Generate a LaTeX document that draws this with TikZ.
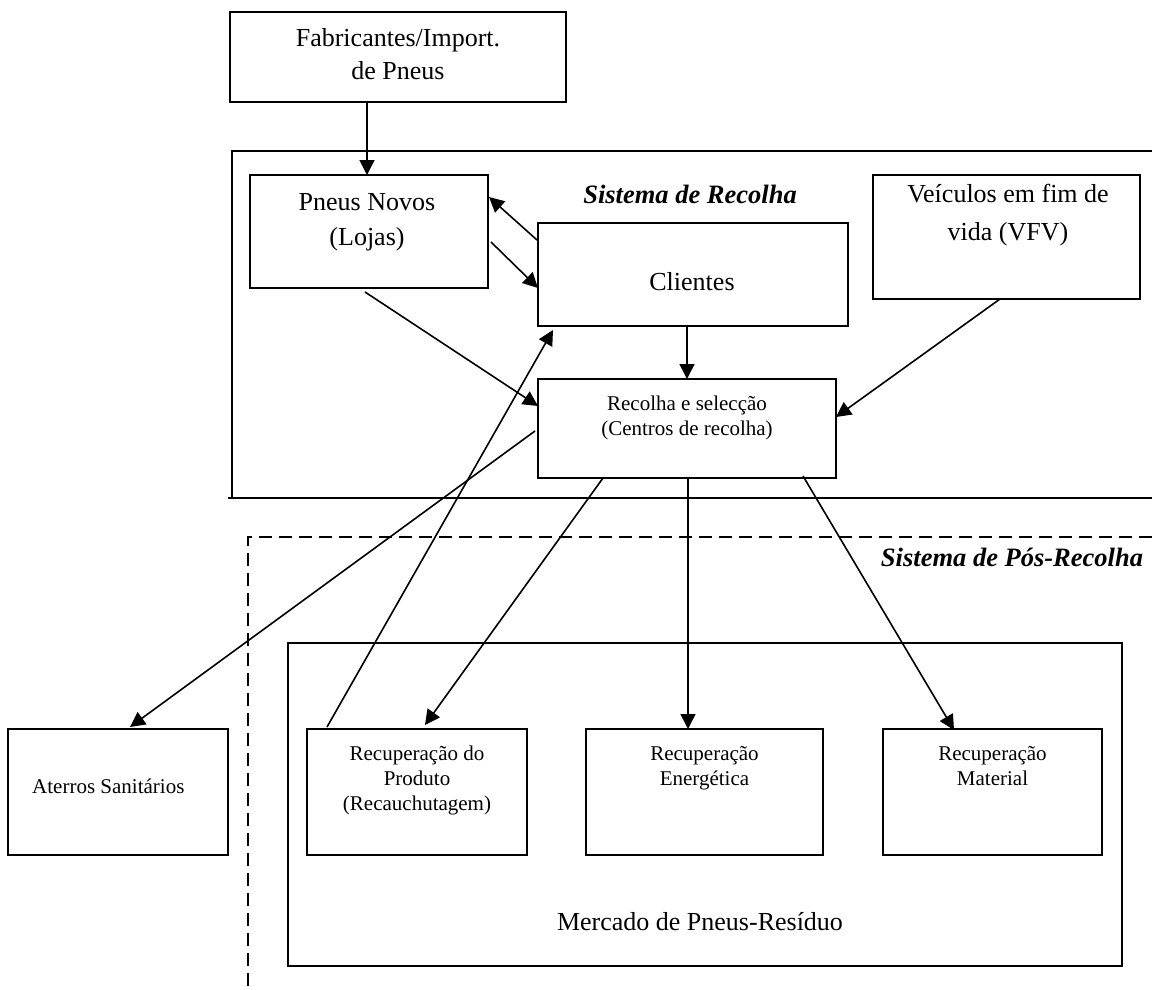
\documentclass[tikz,border=0pt]{standalone}
\usepackage{fontspec}
\setmainfont{Liberation Serif}
\usetikzlibrary{arrows.meta,calc}
\begin{document}
\begin{tikzpicture}[x=1pt,y=-1pt,
  box/.style={draw, line width=1.8pt, inner sep=0pt, outer sep=0pt},
  big/.style={font=\fontsize{26}{31}\selectfont, anchor=base, inner sep=0pt},
  small/.style={font=\fontsize{21}{25}\selectfont, anchor=base, inner sep=0pt},
  systitle/.style={font=\fontsize{26.5}{31}\selectfont\bfseries\itshape, anchor=base, inner sep=0pt},
  flow/.style={line width=1.6pt, -{Triangle[length=15pt,width=15pt]}},
  link/.style={line width=1.6pt},
  frame/.style={line width=1.5pt}]
\useasboundingbox (0,0) rectangle (1152,990);

% system boundaries
\draw[frame] (1152,151) -- (232,151) -- (232,498);
\draw[frame] (228,498) -- (1152,498);
\draw[frame, dash pattern=on 13pt off 7pt] (1152,537) -- (248,537) -- (248,990);
\node[systitle] (tRecolha) at (690,203) {Sistema de Recolha};
\node[systitle] (tPos) at (1012,566) {Sistema de Pós-Recolha};

% boxes
\node[box, minimum width=336pt, minimum height=90pt]  (fab)      at (398,57)    {};
\node[box, minimum width=238pt, minimum height=113pt] (pneus)    at (369,231.5) {};
\node[box, minimum width=310pt, minimum height=103pt] (clientes) at (693,274.5) {};
\node[box, minimum width=267pt, minimum height=124pt] (vfv)      at (1006.5,237) {};
\node[box, minimum width=298pt, minimum height=99pt]  (recolha)  at (687,428.5) {};
\node[box, line width=1.5pt, minimum width=834pt, minimum height=323pt] (mercado) at (705,804.5) {};
\node[box, minimum width=220pt, minimum height=126pt] (aterros)  at (118,792)   {};
\node[box, minimum width=220pt, minimum height=126pt] (produto)  at (417,792)   {};
\node[box, minimum width=237pt, minimum height=126pt] (energ)    at (704.5,792) {};
\node[box, minimum width=219pt, minimum height=126pt] (material) at (992.5,792) {};

% texts
\node[big] (fab1) at (398,47) {Fabricantes/Import.};
\node[big] (fab2) at (398,80) {de Pneus};
\node[big] (pn1) at (367,210) {Pneus Novos};
\node[big] (pn2) at (367,245) {(Lojas)};
\node[big] (cl1) at (692,290) {Clientes};
\node[big] (vf1) at (1008,202) {Veículos em fim de};
\node[big] (vf2) at (1008,240) {vida (VFV)};
\node[small] (rc1) at (687,410) {Recolha e selecção};
\node[small] (rc2) at (687,435) {(Centros de recolha)};
\node[small, anchor=base west] (at1) at (32,793) {Aterros Sanitários};
\node[small] (pr1) at (417,760) {Recuperação do};
\node[small] (pr2) at (417,785) {Produto};
\node[small] (pr3) at (417,810) {(Recauchutagem)};
\node[small] (en1) at (704.5,760) {Recuperação};
\node[small] (en2) at (704.5,785) {Energética};
\node[small] (ma1) at (992.5,760) {Recuperação};
\node[small] (ma2) at (992.5,785) {Material};
\node[big] (me1) at (700,930) {Mercado de Pneus-Resíduo};

% flows
\draw[flow] ($(fab.south west)+(137,0)$) -- ($(pneus.north west)+(117,0)$);
\draw[flow] ($(clientes.north west)+(-1,17)$) -- ($(pneus.north east)+(1,22)$);
\draw[flow] ($(pneus.north east)+(3,67)$) -- ($(clientes.north west)+(0,65)$);
\draw[flow] ($(pneus.south west)+(115,4)$) -- ($(recolha.north west)+(0,27)$);
\draw[flow] ($(clientes.south west)+(149,0)$) -- ($(recolha.north west)+(149,0)$);
\draw[flow] ($(vfv.south west)+(127,0)$) -- ($(recolha.north east)+(0,38)$);
\draw[flow] ($(recolha.north west)+(-3,52)$) -- ($(aterros.north west)+(122,-2)$);
\draw[flow] ($(produto.north west)+(20,-2)$) -- ($(clientes.south west)+(15,4)$);
\draw[flow] ($(recolha.south west)+(65,0)$) -- ($(produto.north west)+(118,-4)$);
\draw[flow] ($(recolha.south west)+(150,0)$) -- ($(energ.north west)+(102,0)$);
\draw[flow] ($(recolha.south west)+(265,-2)$) -- ($(material.north west)+(71,1)$);
\end{tikzpicture}
\end{document}
